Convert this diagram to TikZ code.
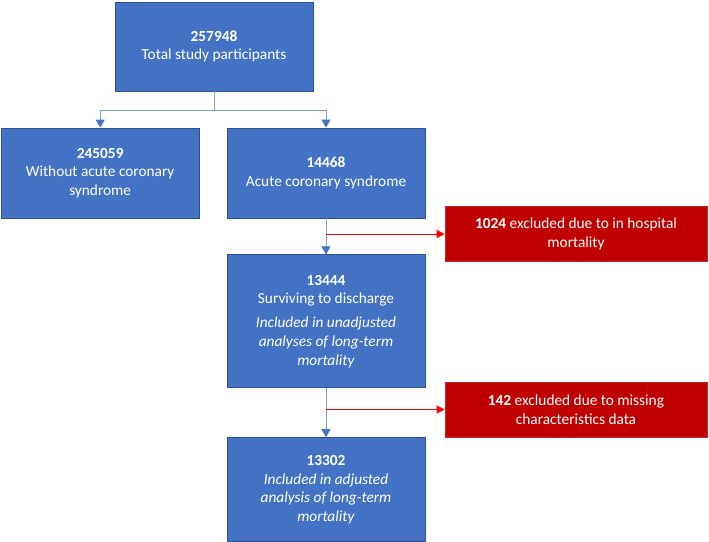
\documentclass[tikz,border=0pt]{standalone}
\usepackage{fontspec}
\setmainfont{Carlito}
\usetikzlibrary{positioning}
\usetikzlibrary{arrows.meta,calc}

\definecolor{boxblue}{HTML}{4472C4}
\definecolor{edgeblue}{HTML}{2F528F}
\definecolor{lineblue}{HTML}{7F9FD9}
\definecolor{boxred}{HTML}{C00000}

\begin{document}
\begin{tikzpicture}[x=1bp,y=1bp,
node distance = 36bp,
box/.style={align=center,rectangle,minimum width=198bp,inner sep=3bp,draw=edgeblue,line width=0.8bp,fill=boxblue,text=white,font=\fontsize{15.4}{18.8}\selectfont},
xbox/.style={align=center,rectangle,minimum width=262bp,minimum height=55bp,draw=boxred!85!white,line width=0.6bp,fill=boxred,text=white,font=\fontsize{15.4}{18.8}\selectfont},
link/.style={draw=lineblue,line width=1bp,-{Triangle[width=9bp,length=8bp,color=boxblue]}},
xlink/.style={draw=red,line width=0.8bp,-{Triangle[width=8bp,length=8bp]}}]
\useasboundingbox (0,0) rectangle (709,-542);
\node [box, minimum height=89bp] (total) at (214,-46.5) {\textbf{257948}\\Total study participants};
\node [box, minimum height=90bp] (acs) at (326,-173) {\textbf{14468}\\Acute coronary syndrome};
\node [box, minimum height=90bp] (noacs) [left = 27bp of acs] {\textbf{245059}\\Without acute coronary\\syndrome};
\node [box, minimum height=133bp] (surv) [below = of acs] {\textbf{13444}\\Surviving to discharge\\[5bp]
\textit{Included in unadjusted}\\\textit{analyses of long-term}\\\textit{mortality}};
\node [box, minimum height=104bp] (adj) [below = 49bp of surv] {\textbf{13302}\\\textit{Included in adjusted}\\\textit{analysis of long-term}\\\textit{mortality}};
\node [xbox] (died) at (576,-234) {\textbf{1024} excluded due to in hospital\\mortality};
\node [xbox] (miss) at (576,-409.5) {\textbf{142} excluded due to missing\\characteristics data};
% split below the first box
\draw [link] (total.south) -- ++(0,-19) -| (noacs.north);
\draw [link] (total.south) -- ++(0,-19) -| (acs.north);
\draw [link] (acs.south) -- (surv.north);
\draw [link] (surv.south) -- (adj.north);
% exclusions
\draw [xlink] (acs.south |- died.west) -- (died.west);
\draw [xlink] (surv.south |- miss.west) -- (miss.west);
\end{tikzpicture}
\end{document}
